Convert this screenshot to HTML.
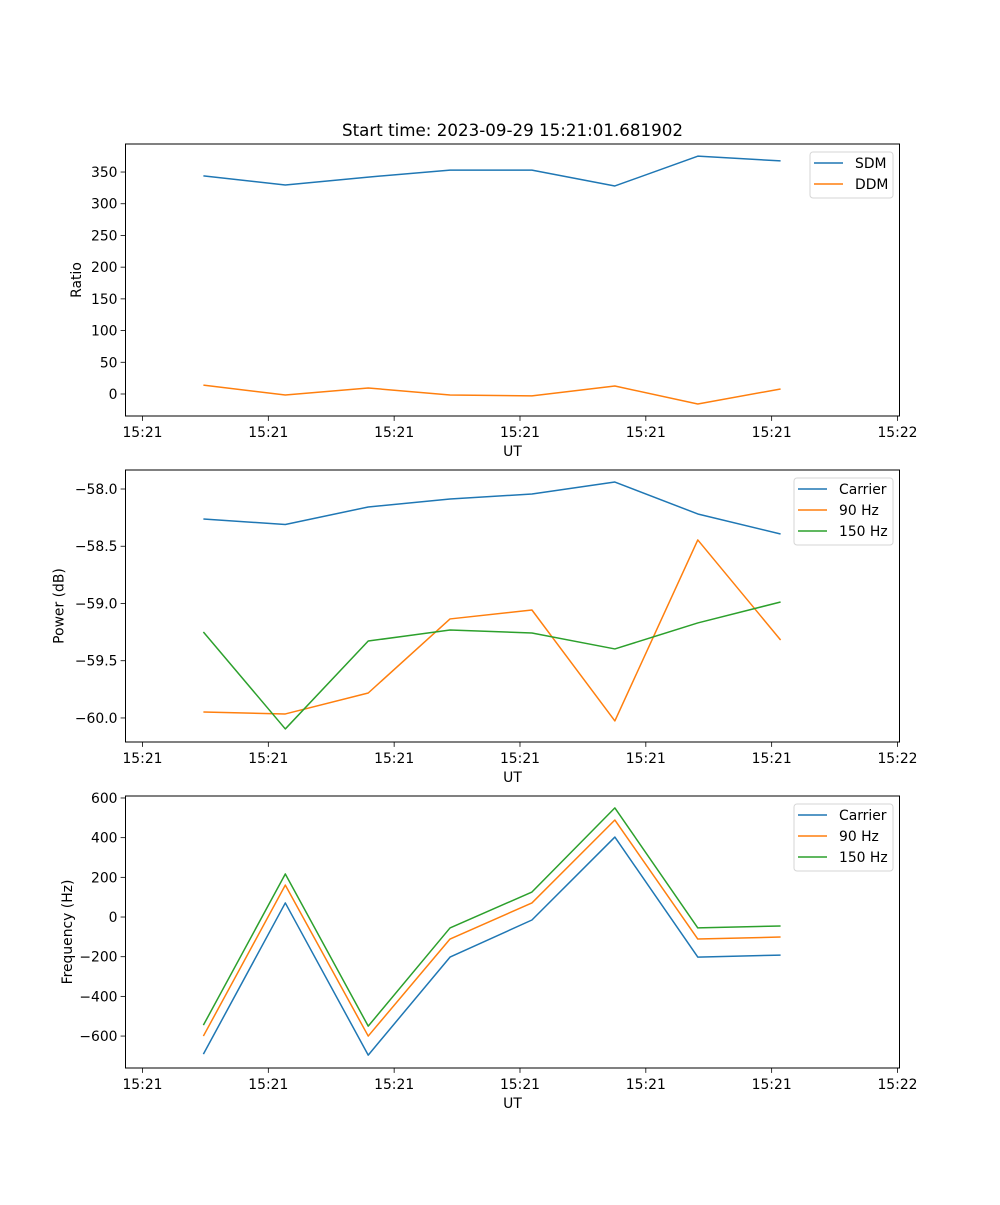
<!DOCTYPE html>
<html><head><meta charset="utf-8"><style>
html,body{margin:0;padding:0;background:#fff;}
svg text{font-family:"DejaVu Sans","Liberation Sans",sans-serif;font-size:13.9px;fill:#000;}
</style></head><body>
<svg id="fig" width="1000" height="1200" xmlns="http://www.w3.org/2000/svg">
<rect width="1000" height="1200" fill="#fff"/>
<text x="512.5" y="136" text-anchor="middle" style="font-size:16.7px">Start time: 2023-09-29 15:21:01.681902</text>
</svg>
<script>
const xTimes = [0.484, 1.135, 1.794, 2.444, 3.095, 3.754, 4.413, 5.071];
const xTickVals = [0, 1, 2, 3, 4, 5, 6];
const xTickLabels = ["15:21","15:21","15:21","15:21","15:21","15:21","15:22"];
const sdm = [344, 329.6, 342, 353, 353, 328, 375, 367.5];
const ddm = [14, -1.6, 9.5, -1.6, -3, 12.6, -15.8, 7.9];
const ratioTicks = [0, 50, 100, 150, 200, 250, 300, 350];
const powCarrier = [-58.262, -58.31, -58.157, -58.087, -58.044, -57.939, -58.218, -58.393];
const pow90 = [-59.948, -59.965, -59.782, -59.135, -59.057, -60.026, -58.445, -59.319];
const pow150 = [-59.249, -60.096, -59.328, -59.232, -59.258, -59.397, -59.170, -58.987];
const powTicks = [-60.0, -59.5, -59.0, -58.5, -58.0];
const powTickLabels = ["\u221260.0","\u221259.5","\u221259.0","\u221258.5","\u221258.0"];
const freqCarrier = [-691, 71, -696, -202, -15, 403, -202, -192];
const freq90 = [-600, 161, -600, -111, 71, 489, -111, -101];
const freq150 = [-545, 217, -550, -55, 126, 550, -55, -45];
const freqTicks = [-600, -400, -200, 0, 200, 400, 600];
const freqTickLabels = ["\u2212600","\u2212400","\u2212200","0","200","400","600"];

const NS = "http://www.w3.org/2000/svg";
const svg = document.getElementById('fig');
function mk(tag, attrs, parent){const e=document.createElementNS(NS,tag);for(const k in attrs)e.setAttribute(k,attrs[k]);(parent||svg).appendChild(e);return e;}

const L=125.5, R=899.5, xmin=-0.135, xmax=6.016;
function xs(v){return L+(v-xmin)/(xmax-xmin)*(R-L);}

function panel(name, top, bot, ymin, ymax, yTicks, yLabels, ylabel, series, legendW){
  const g=mk('g',{});
  
  
  const ys=v=>bot-(v-ymin)/(ymax-ymin)*(bot-top);
  series.forEach(s=>{
    const p=mk('polyline',{points:s.data.map((v,i)=>xs(xTimes[i]).toFixed(2)+','+ys(v).toFixed(2)).join(' '),fill:'none',stroke:s.color,'stroke-width':1.5,'stroke-linejoin':'round'},g);
    
    
  });
  const frame=mk('rect',{x:L,y:top,width:R-L,height:bot-top,fill:'none',stroke:'#000','stroke-width':1},g);
  
  
  xTickVals.forEach((v,i)=>{
    const x=xs(v);
    mk('line',{x1:x,x2:x,y1:bot,y2:bot+4.9,stroke:'#000','stroke-width':0.8},g);
    const t=mk('text',{x:x,y:bot+21,'text-anchor':'middle'},g);
    t.textContent=xTickLabels[i];
    
    
  });
  const xl=mk('text',{x:(L+R)/2,y:bot+40,'text-anchor':'middle'},g);
  xl.textContent='UT';
  
  
  let maxw=0;
  yTicks.forEach((v,i)=>{
    const y=ys(v);
    mk('line',{x1:L-4.9,x2:L,y1:y,y2:y,stroke:'#000','stroke-width':0.8},g);
    const t=mk('text',{x:L-8,y:y+5,'text-anchor':'end'},g);
    t.textContent=yLabels[i];
    
    
    maxw=Math.max(maxw,yLabels[i].length);
  });
  const cx=L-8-maxw*8.85-10, cy=(top+bot)/2;
  const yl=mk('text',{x:cx,y:cy,'text-anchor':'middle',transform:'rotate(-90 '+cx+' '+cy+')'},g);
  yl.textContent=ylabel;
  
  
  const lx=R-6.5-legendW, ly=top+8;
  const lg=mk('g',{},g);
  
  
  mk('rect',{x:lx,y:ly,width:legendW,height:series.length*21+4,rx:3,fill:'#fff','fill-opacity':0.8,stroke:'#d6d6d6','stroke-width':1},lg);
  series.forEach((s,i)=>{
    const yy=ly+11+i*21;
    mk('line',{x1:lx+4,x2:lx+33,y1:yy,y2:yy,stroke:s.color,'stroke-width':1.5},lg);
    const t=mk('text',{x:lx+45,y:yy+5},lg);
    t.textContent=s.label;
    
    
  });
}
const B='#1f77b4',O='#ff7f0e',G='#2ca02c';
panel('ratio',144,416,-34.7,394.2,ratioTicks,ratioTicks.map(String),'Ratio',
  [{key:'sdm',label:'SDM',data:sdm,color:B},{key:'ddm',label:'DDM',data:ddm,color:O}],83);
panel('power',470,742,-60.21,-57.834,powTicks,powTickLabels,'Power (dB)',
  [{key:'carrier',label:'Carrier',data:powCarrier,color:B},{key:'90hz',label:'90 Hz',data:pow90,color:O},{key:'150hz',label:'150 Hz',data:pow150,color:G}],99);
panel('frequency',796,1068,-761,610,freqTicks,freqTickLabels,'Frequency (Hz)',
  [{key:'carrier',label:'Carrier',data:freqCarrier,color:B},{key:'90hz',label:'90 Hz',data:freq90,color:O},{key:'150hz',label:'150 Hz',data:freq150,color:G}],99);
</script>
</body></html>
